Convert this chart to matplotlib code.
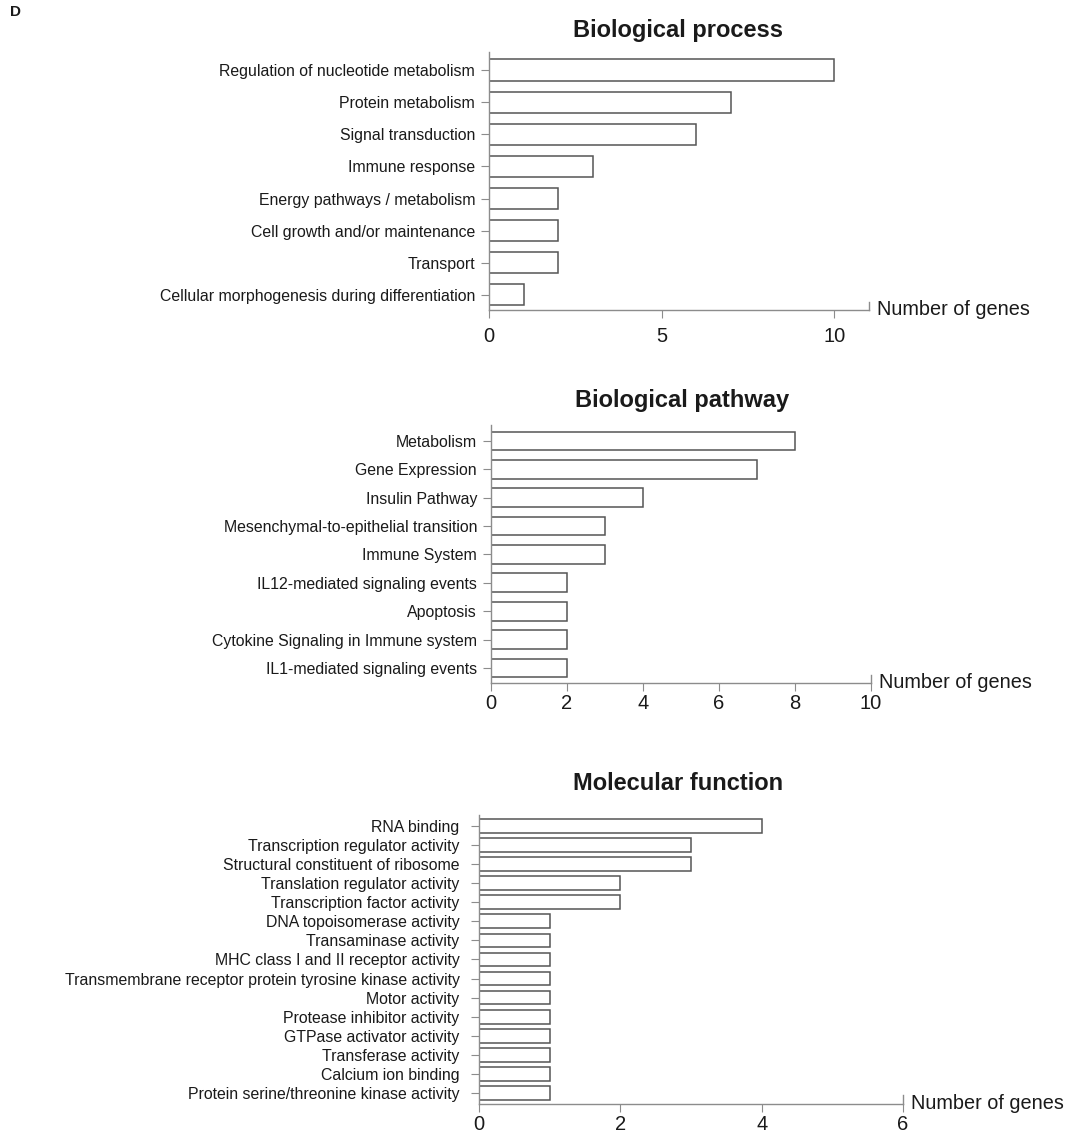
import numpy as np
import matplotlib
matplotlib.use("Agg")
import matplotlib.pyplot as plt

plt.rcParams['font.family'] = ['Liberation Sans', 'DejaVu Sans']

# GO categories and gene counts
process_terms = ["Regulation of nucleotide metabolism", "Protein metabolism",
                 "Signal transduction", "Immune response",
                 "Energy pathways / metabolism", "Cell growth and/or maintenance",
                 "Transport", "Cellular morphogenesis during differentiation"]
process_counts = [10, 7, 6, 3, 2, 2, 2, 1]

pathway_terms = ["Metabolism", "Gene Expression", "Insulin Pathway",
                 "Mesenchymal-to-epithelial transition", "Immune System",
                 "IL12-mediated signaling events", "Apoptosis",
                 "Cytokine Signaling in Immune system", "IL1-mediated signaling events"]
pathway_counts = [8, 7, 4, 3, 3, 2, 2, 2, 2]

function_terms = ["RNA binding", "Transcription regulator activity",
                  "Structural constituent of ribosome", "Translation regulator activity",
                  "Transcription factor activity", "DNA topoisomerase activity",
                  "Transaminase activity", "MHC class I and II receptor activity",
                  "Transmembrane receptor protein tyrosine kinase activity",
                  "Motor activity", "Protease inhibitor activity",
                  "GTPase activator activity", "Transferase activity",
                  "Calcium ion binding", "Protein serine/threonine kinase activity"]
function_counts = [4, 3, 3, 2, 2, 1, 1, 1, 1, 1, 1, 1, 1, 1, 1]

fig = plt.figure(figsize=(10.65, 11.33), dpi=100)

axis_col = "#8c8c8c"
text_col = "#1a1a1a"


def go_panel(rect, title, terms, counts, xmax, xticks, ylim, bar_h, label_fs,
             num_pad, title_x, title_y, ypad):
    ax = fig.add_axes(rect)
    pos = np.arange(len(terms))
    ax.barh(pos, counts, height=bar_h, color="white", edgecolor="#555555", linewidth=1.1)
    ax.set_yticks(pos)
    ax.set_yticklabels(terms, fontsize=label_fs, color=text_col)
    ax.set_ylim(ylim[1], ylim[0])
    ax.set_xlim(0, xmax)
    ax.set_xticks(xticks)
    ax.set_xticklabels([str(t) for t in xticks], fontsize=14.5, color=text_col)
    for s in ["top", "right"]:
        ax.spines[s].set_visible(False)
    for s in ["left", "bottom"]:
        ax.spines[s].set_color(axis_col)
        ax.spines[s].set_linewidth(1.0)
    ax.tick_params(axis="y", length=6, color=axis_col, pad=ypad)
    ax.tick_params(axis="x", length=6, color=axis_col, pad=num_pad)
    # short upward tick closing the x axis
    ax.plot([1, 1], [0, 0.03], transform=ax.transAxes, color=axis_col, lw=1.0,
            clip_on=False)
    ax.text(1.02, 0.0, "Number of genes", transform=ax.transAxes, fontsize=14.3,
            color=text_col, ha="left", va="center")
    fig.text(title_x / 1065, title_y, title, fontsize=17, fontweight="bold",
             color=text_col, ha="center", va="center")
    return ax


go_panel([0.4592, 0.7264, 0.3568, 0.2277], "Biological process",
         process_terms, process_counts, 11, [0, 5, 10], (-0.56, 7.47), 0.66,
         11.4, 6, 678, 1 - 30 / 1133, 4)

go_panel([0.4610, 0.3972, 0.3568, 0.2277], "Biological pathway",
         pathway_terms, pathway_counts, 10, [0, 2, 4, 6, 8, 10], (-0.56, 8.53), 0.66,
         11.4, 2, 682, 1 - 401 / 1133, 4)

go_panel([0.4498, 0.0256, 0.3981, 0.2551], "Molecular function",
         function_terms, function_counts, 6, [0, 2, 4, 6], (-0.58, 14.58), 0.72,
         11.4, 2, 678, 1 - 784 / 1133, 8)

fig.text(0.009, 1 - 12 / 1133, "D", fontsize=11, fontweight="bold", color=text_col,
         ha="left", va="center")

fig.savefig("out.png", dpi=100)
